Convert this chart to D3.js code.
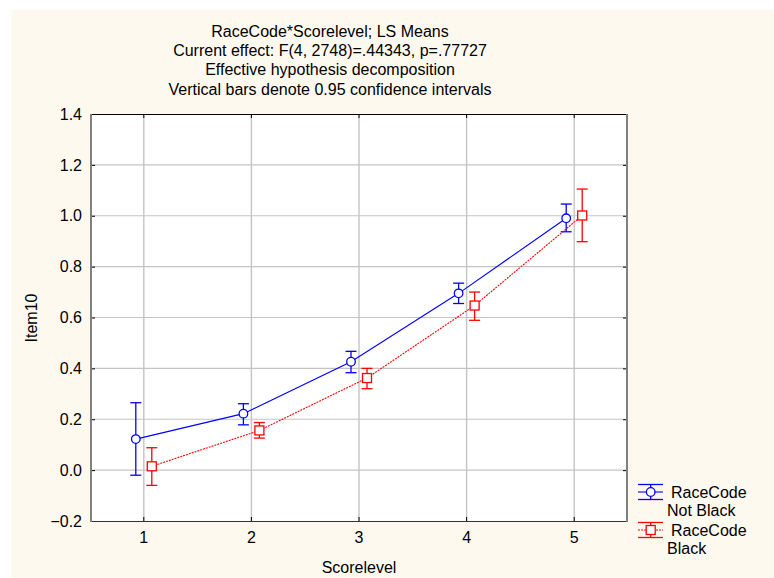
<!DOCTYPE html>
<html><head><meta charset="utf-8">
<script src="https://cdn.jsdelivr.net/npm/d3@7"></script>
<style>body{margin:0;background:#fff;}svg{display:block;font-family:Arial,"Liberation Sans",sans-serif;}</style>
</head><body>
<svg id="chart" width="774" height="578"></svg>
<script>
const scoreLevels = [1, 2, 3, 4, 5];
const yTicks = [-0.2, 0.0, 0.2, 0.4, 0.6, 0.8, 1.0, 1.2, 1.4];
const notBlackMean  = [0.122, 0.222, 0.426, 0.695, 0.990];
const notBlackLower = [-0.020, 0.178, 0.383, 0.655, 0.937];
const notBlackUpper = [0.265, 0.261, 0.467, 0.735, 1.046];
const blackMean  = [0.015, 0.156, 0.362, 0.647, 1.001];
const blackLower = [-0.060, 0.126, 0.320, 0.589, 0.898];
const blackUpper = [0.088, 0.187, 0.400, 0.700, 1.105];
const titleLines = ["RaceCode*Scorelevel; LS Means",
  "Current effect: F(4, 2748)=.44343, p=.77727",
  "Effective hypothesis decomposition",
  "Vertical bars denote 0.95 confidence intervals"];
const seriesNames = [["RaceCode", "Not Black"], ["RaceCode", "Black"]];

const FS = 16;
const svg = d3.select("#chart");
const L = 90, R = 628, T = 114, B = 521;
svg.append("rect").attr("x", 11).attr("y", 10).attr("width", 763).attr("height", 568).attr("fill", "#fef9ef");
svg.append("rect").attr("x", L).attr("y", T).attr("width", R - L).attr("height", B - T).attr("fill", "#fff");

const x = d3.scaleBand().domain(scoreLevels).range([L, R]);
const xc = d => x(d) + x.bandwidth() / 2;
const y = d3.scaleLinear().domain([-0.2, 1.4]).range([B, T]);

// grid
svg.append("g").selectAll("line").data(yTicks.slice(1, -1)).join("line")
  .attr("x1", L).attr("x2", R).attr("y1", d => y(d)).attr("y2", d => y(d))
  .attr("stroke", "#c4c4c4").attr("stroke-width", 1.2);
svg.append("g").selectAll("line").data(scoreLevels).join("line")
  .attr("x1", d => xc(d)).attr("x2", d => xc(d)).attr("y1", T).attr("y2", B)
  .attr("stroke", "#c4c4c4").attr("stroke-width", 1.4);

// axes
const yAxis = d3.axisLeft(y).tickValues(yTicks).tickFormat(d3.format(".1f")).tickSize(-5).tickPadding(8);
const gy = svg.append("g").attr("transform", `translate(${L},0)`).call(yAxis);
gy.select(".domain").remove();
gy.selectAll("text").attr("font-size", FS).attr("fill", "#000").style("font-family", "Arial, 'Liberation Sans', sans-serif");
gy.selectAll("line").attr("stroke", "#000");
const xAxis = d3.axisBottom(x).tickSize(-4).tickPadding(11);
const gx = svg.append("g").attr("transform", `translate(0,${B})`).call(xAxis);
gx.select(".domain").remove();
gx.selectAll("text").attr("font-size", FS).attr("fill", "#000").style("font-family", "Arial, 'Liberation Sans', sans-serif");
gx.selectAll("line").attr("stroke", "#000");
const gxt = svg.append("g").attr("transform", `translate(0,${T})`).call(d3.axisTop(x).tickSize(-4).tickFormat(""));
gxt.select(".domain").remove(); gxt.selectAll("line").attr("stroke", "#000");
const gyr = svg.append("g").attr("transform", `translate(${R},0)`).call(d3.axisRight(y).tickValues(yTicks).tickSize(-5).tickFormat(""));
gyr.select(".domain").remove(); gyr.selectAll("line").attr("stroke", "#000");

// frame
svg.append("line").attr("x1", L).attr("x2", R).attr("y1", T + 0.5).attr("y2", T + 0.5).attr("stroke", "#000");
svg.append("line").attr("x1", L).attr("x2", R).attr("y1", B + 0.5).attr("y2", B + 0.5).attr("stroke", "#333");
svg.append("line").attr("x1", L + 1).attr("x2", L + 1).attr("y1", T).attr("y2", B + 1).attr("stroke", "#808080").attr("stroke-width", 2);
svg.append("line").attr("x1", R - 1).attr("x2", R - 1).attr("y1", T).attr("y2", B + 1).attr("stroke", "#808080").attr("stroke-width", 2);

// titles
svg.append("g").selectAll("text").data(titleLines).join("text")
  .attr("x", 330).attr("y", (d, i) => 37 + i * 19.2).attr("text-anchor", "middle")
  .attr("font-size", FS).attr("fill", "#000").text(d => d);
svg.append("text").attr("x", 359).attr("y", 573).attr("text-anchor", "middle").attr("font-size", FS).text("Scorelevel");
svg.append("text").attr("transform", "translate(37,318) rotate(-90)").attr("text-anchor", "middle").attr("font-size", FS).text("Item10");

// series
const series = [
  {mean: notBlackMean, lo: notBlackLower, hi: notBlackUpper, color: "#0000ff", off: -8, dash: null, shape: "circle"},
  {mean: blackMean, lo: blackLower, hi: blackUpper, color: "#ff0000", off: 8, dash: "2,1", shape: "square"}
];
series.forEach(s => {
  const g = svg.append("g");
  const pts = scoreLevels.map((c, i) => [xc(c) + s.off, y(s.mean[i])]);
  g.append("path").attr("d", d3.line()(pts)).attr("fill", "none").attr("stroke", s.color)
    .attr("stroke-width", 1.1).attr("stroke-dasharray", s.dash);
  scoreLevels.forEach((c, i) => {
    const cx = xc(c) + s.off;
    g.append("line").attr("x1", cx).attr("x2", cx).attr("y1", y(s.lo[i])).attr("y2", y(s.hi[i])).attr("stroke", s.color).attr("stroke-width", 1.3);
    [s.lo[i], s.hi[i]].forEach(v => g.append("line").attr("x1", cx - 5.5).attr("x2", cx + 5.5).attr("y1", y(v)).attr("y2", y(v)).attr("stroke", s.color).attr("stroke-width", 1.3));
    if (s.shape === "circle") g.append("circle").attr("cx", cx).attr("cy", y(s.mean[i])).attr("r", 4.3).attr("fill", "#fff").attr("stroke", s.color).attr("stroke-width", 1.3);
    else g.append("rect").attr("x", cx - 4.5).attr("y", y(s.mean[i]) - 4.5).attr("width", 9).attr("height", 9).attr("fill", "#fff").attr("stroke", s.color).attr("stroke-width", 1.3);
  });
});

// legend
const legY = [492, 530];
series.forEach((s, k) => {
  const g = svg.append("g");
  const cy = legY[k], cx = 650.7;
  [cy - 7.5, cy + 7.5].forEach(v => g.append("line").attr("x1", 638).attr("x2", 663).attr("y1", v).attr("y2", v).attr("stroke", s.color).attr("stroke-width", 1.3));
  g.append("line").attr("x1", 638).attr("x2", 663).attr("y1", cy).attr("y2", cy).attr("stroke", s.color).attr("stroke-width", 1.1).attr("stroke-dasharray", s.dash);
  g.append("line").attr("x1", cx).attr("x2", cx).attr("y1", cy - 7.5).attr("y2", cy + 7.5).attr("stroke", s.color).attr("stroke-width", 1.3);
  if (s.shape === "circle") g.append("circle").attr("cx", cx).attr("cy", cy).attr("r", 4.3).attr("fill", "#fff").attr("stroke", s.color).attr("stroke-width", 1.3);
  else g.append("rect").attr("x", cx - 4.5).attr("y", cy - 4.5).attr("width", 9).attr("height", 9).attr("fill", "#fff").attr("stroke", s.color).attr("stroke-width", 1.3);
  g.append("text").attr("x", 671).attr("y", cy + 5.5).attr("font-size", FS).text(seriesNames[k][0]);
  g.append("text").attr("x", 667).attr("y", cy + 24).attr("font-size", FS).text(seriesNames[k][1]);
});
</script>
</body></html>
